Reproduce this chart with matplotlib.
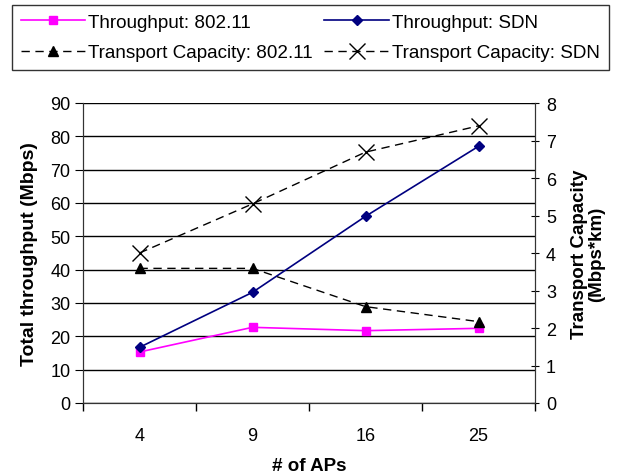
import matplotlib.pyplot as plt

plt.rcParams['font.family'] = ['Liberation Sans', 'DejaVu Sans']

# data
aps = ['4', '9', '16', '25']
thr_80211 = [15.3, 22.7, 21.7, 22.4]
thr_sdn = [16.7, 33.2, 56.0, 77.0]
tc_80211 = [3.59, 3.59, 2.57, 2.17]
tc_sdn = [4.0, 5.31, 6.69, 7.39]

fig = plt.figure(figsize=(6.31, 4.77), dpi=100)
ax = fig.add_axes([83 / 631, 1 - 404 / 477, (535 - 83) / 631, 300 / 477])
ax2 = ax.twinx()

x = list(range(len(aps)))

l1, = ax.plot(x, thr_80211, color='#ff00ff', marker='s', markersize=6, lw=1.2,
              label='Throughput: 802.11')
l2, = ax.plot(x, thr_sdn, color='#000080', marker='D', markersize=5, lw=1.2,
              label='Throughput: SDN')
l3, = ax2.plot(x, tc_80211, color='black', marker='^', markersize=7, lw=1,
               dashes=(6, 4), label='Transport Capacity: 802.11')
l4, = ax2.plot(x, tc_sdn, color='black', marker='x', markersize=11, mew=1,
               lw=1, dashes=(6, 4), label='Transport Capacity: SDN')

ax.set_xlim(-0.5, 3.5)
ax.set_ylim(0, 90)
ax.set_yticks(range(0, 91, 10))
ax2.set_ylim(0, 8)
ax2.set_yticks(range(0, 9))

ax.set_xticks(x)
ax.set_xticklabels(aps)
ax.set_xticks([-0.5, 0.5, 1.5, 2.5, 3.5], minor=True)
ax.tick_params(axis='x', which='major', length=0, pad=17, labelsize=13)
ax.tick_params(axis='x', which='minor', length=6, direction='out', width=1)
ax.tick_params(axis='y', length=6, direction='out', labelsize=13, pad=3)
ax2.tick_params(axis='y', length=6, direction='inout', labelsize=13, pad=5)

ax.grid(axis='y', color='black', lw=1)
ax.set_axisbelow(True)
ax.spines['top'].set_visible(False)
ax2.spines['top'].set_visible(False)
for a in (ax, ax2):
    for s in a.spines.values():
        s.set_color('#333333')

ax.set_xlabel('# of APs', fontsize=13.5, fontweight='bold', labelpad=10)
ax.set_ylabel('Total throughput (Mbps)', fontsize=14, fontweight='bold')
ax.yaxis.set_label_coords(-0.10, 0.5)
ax2.set_ylabel('Transport Capacity\n(Mbps*km)', fontsize=13.5, fontweight='bold',
               linespacing=1.0)
ax2.yaxis.set_label_coords(1.08, 0.5)

# legend fills row by row in the reference
leg = fig.legend(handles=[l1, l3, l2, l4], loc='upper left', ncol=2,
                 bbox_to_anchor=(12 / 631, 1 - 6 / 477), fontsize=13.6,
                 frameon=True, fancybox=False, edgecolor='black',
                 handlelength=3.4, handletextpad=0.2, columnspacing=0.6,
                 borderpad=0.45, labelspacing=0.7, borderaxespad=0)
leg.get_frame().set_linewidth(1)

fig.savefig('out.png', dpi=100)
